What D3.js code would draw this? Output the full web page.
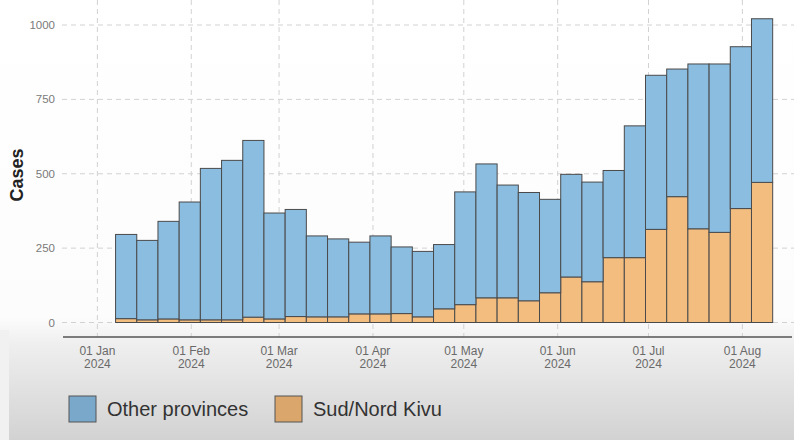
<!DOCTYPE html>
<html>
<head>
<meta charset="utf-8">
<script src="https://cdn.jsdelivr.net/npm/d3@7"></script>
<style>
  body { margin: 0; background: #fff; }
  svg { display: block; font-family: "Liberation Sans", Arial, sans-serif; }
</style>
</head>
<body>
<svg id="chart" width="794" height="440"></svg>
<script>
// weekly counts, week starting on the date below
const weekStarts = ["2024-01-07","2024-01-14","2024-01-21","2024-01-28","2024-02-04","2024-02-11","2024-02-18","2024-02-25",
    "2024-03-03","2024-03-10","2024-03-17","2024-03-24","2024-03-31","2024-04-07","2024-04-14","2024-04-21","2024-04-28",
    "2024-05-05","2024-05-12","2024-05-19","2024-05-26","2024-06-02","2024-06-09","2024-06-16","2024-06-23","2024-06-30",
    "2024-07-07","2024-07-14","2024-07-21","2024-07-28","2024-08-04"]
const kivuCases = [13,9,12,9,9,9,18,12,20,19,19,29,29,30,19,46,60,83,83,73,100,153,137,218,218,313,423,315,303,383,471]
const otherCases = [283,267,328,396,509,536,594,356,360,272,262,241,262,224,220,216,379,450,379,364,314,345,335,293,443,518,429,554,566,544,550]
const seriesNames = ["Sud/Nord Kivu", "Other provinces"]
const yTicks = [0, 250, 500, 750, 1000]

const colors = {"Other provinces": "#8bbde0", "Sud/Nord Kivu": "#f3bd80"}
const legendColors = {"Other provinces": "#79a8cb", "Sud/Nord Kivu": "#daa66c"}

const svg = d3.select("#chart")
const parse = d3.utcParse("%Y-%m-%d")

const rows = weekStarts.map((w,i)=>({week: parse(w), "Sud/Nord Kivu": kivuCases[i], "Other provinces": otherCases[i]}))
const stacked = d3.stack().keys(seriesNames)(rows)

const x = d3.scaleUtc()
    .domain([parse("2024-01-01"), parse("2024-08-01")])
    .range([97.4, 742.4])
const y = d3.scaleLinear()
    .domain([0, 1000])
    .range([322.5, 25])

// background: white panel fading to grey at the bottom
const defs = svg.append("defs")
const grad = defs.append("linearGradient").attr("id", "bg").attr("x1", 0).attr("y1", 0).attr("x2", 0).attr("y2", 1)
grad.append("stop").attr("offset", 0).attr("stop-color", "#ffffff")
grad.append("stop").attr("offset", 0.72).attr("stop-color", "#fcfcfc")
grad.append("stop").attr("offset", 0.78).attr("stop-color", "#efefef")
grad.append("stop").attr("offset", 1).attr("stop-color", "#d2d2d2")
svg.append("rect").attr("width", 794).attr("height", 440).attr("fill", "url(#bg)")
svg.append("rect").attr("x", 0).attr("y", 330).attr("width", 9).attr("height", 110).attr("fill", "#f1f1f1")

// grid
const grid = svg.append("g").attr("stroke", "#d2d2d2").attr("stroke-width", 1).attr("stroke-dasharray", "5,4")
grid.selectAll(".hgrid").data(yTicks).join("line")
    .attr("x1", 62).attr("x2", 794)
    .attr("y1", d=>y(d)).attr("y2", d=>y(d))
grid.selectAll(".vgrid").data(x.ticks(d3.utcMonth.every(1))).join("line")
    .attr("x1", d=>x(d)).attr("x2", d=>x(d))
    .attr("y1", 0).attr("y2", 337)

// stacked bars
svg.append("g").selectAll("g").data(stacked).join("g")
    .attr("fill", d=>colors[d.key])
    .selectAll("rect").data(d=>d).join("rect")
    .attr("x", d=>x(d.data.week))
    .attr("width", d=>x(d3.utcDay.offset(d.data.week, 7)) - x(d.data.week))
    .attr("y", d=>y(d[1]))
    .attr("height", d=>y(d[0]) - y(d[1]))
    .attr("stroke", "#4a4a4a")
    .attr("stroke-width", 1)

// y axis labels
svg.append("g").selectAll("text").data(yTicks).join("text")
    .attr("x", 55).attr("y", d=>y(d)).attr("dy", "0.35em")
    .attr("text-anchor", "end")
    .attr("font-size", 11.5).attr("fill", "#7a7a7a")
    .text(d=>d)

svg.append("text")
    .attr("transform", "translate(23,175) rotate(-90)")
    .attr("text-anchor", "middle")
    .attr("font-size", 18).attr("font-weight", "bold").attr("fill", "#222")
    .text("Cases")

// x axis
svg.append("line").attr("x1", 63).attr("x2", 792).attr("y1", 337).attr("y2", 337)
    .attr("stroke", "#555").attr("stroke-width", 1.5)

const fmtDay = d3.utcFormat("%d %b")
const fmtYear = d3.utcFormat("%Y")
const xLabels = svg.append("g").selectAll("text").data(x.ticks(d3.utcMonth.every(1))).join("text")
    .attr("text-anchor", "middle")
    .attr("font-size", 12).attr("fill", "#6a6a6a")
xLabels.append("tspan").attr("x", d=>x(d)).attr("y", 355).text(d=>fmtDay(d))
xLabels.append("tspan").attr("x", d=>x(d)).attr("y", 368).text(d=>fmtYear(d))

// legend
const legendItems = [
    {name: "Other provinces", x: 69},
    {name: "Sud/Nord Kivu", x: 275}
]
const legend = svg.append("g").selectAll("g").data(legendItems).join("g")
    .attr("transform", d=>`translate(${d.x},396)`)
legend.append("rect")
    .attr("width", 27).attr("height", 26)
    .attr("fill", d=>legendColors[d.name])
    .attr("stroke", "#555").attr("stroke-width", 1)
legend.append("text")
    .attr("x", 38).attr("y", 20)
    .attr("font-size", 20).attr("fill", "#333")
    .text(d=>d.name)
</script>
</body>
</html>
